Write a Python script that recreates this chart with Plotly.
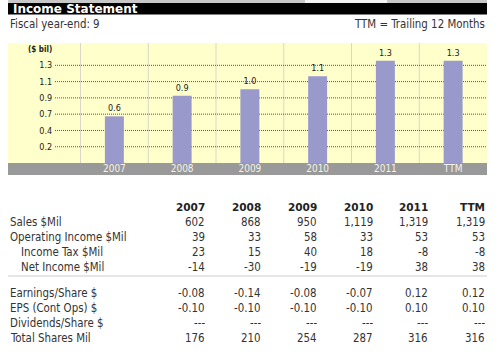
import plotly.graph_objects as go

# ---------------- data ----------------
categories = ["2007", "2008", "2009", "2010", "2011", "TTM"]
sales_bil = [0.602, 0.868, 0.950, 1.119, 1.319, 1.319]
bar_labels = ["0.6", "0.9", "1.0", "1.1", "1.3", "1.3"]
y_tick_vals = [0.21, 0.42, 0.63, 0.84, 1.05, 1.26]
y_tick_text = ["0.2", "0.4", "0.7", "0.9", "1.1", "1.3"]

row_labels = ["Sales $Mil", "Operating Income $Mil", "Income Tax $Mil", "Net Income $Mil",
              "Earnings/Share $", "EPS (Cont Ops) $", "Dividends/Share $", "Total Shares Mil"]
row_indent = [0, 0, 1, 1, 0, 0, 0, 0]
sales_mil = ["602", "868", "950", "1,119", "1,319", "1,319"]
operating_income = ["39", "33", "58", "33", "53", "53"]
income_tax = ["23", "15", "40", "18", "-8", "-8"]
net_income = ["-14", "-30", "-19", "-19", "38", "38"]
eps = ["-0.08", "-0.14", "-0.08", "-0.07", "0.12", "0.12"]
eps_cont = ["-0.10", "-0.10", "-0.10", "-0.10", "0.10", "0.10"]
dividends = ["---", "---", "---", "---", "---", "---"]
total_shares = ["176", "210", "254", "287", "316", "316"]
table_rows = [sales_mil, operating_income, income_tax, net_income,
              eps, eps_cont, dividends, total_shares]

# ---------------- layout helpers ----------------
W, H = 500, 360
def px(x):
    return x / W
def py(y):
    return 1 - y / H

FONT = "Tahoma, 'DejaVu Sans Condensed', 'DejaVu Sans', Verdana, sans-serif"
FONT_WIDE = "Verdana, 'DejaVu Sans', sans-serif"
TXT = "#333333"
LEFT, RIGHT = 8, 487
CHART_TOP, CHART_BOT, BAND_BOT = 43, 163, 175

fig = go.Figure()
fig.add_trace(go.Bar(
    x=categories, y=sales_bil, width=0.28,
    marker=dict(color="#9999CC", line=dict(width=0)),
    text=bar_labels, textposition="outside", cliponaxis=False,
    textfont=dict(family=FONT, size=9, color="#222222"),
    hoverinfo="skip",
))

shapes = []
# top strip and header bar
shapes.append(dict(type="rect", xref="paper", yref="paper", x0=px(LEFT), x1=px(RIGHT),
                   y0=py(3), y1=py(0), fillcolor="#C8C8C8", line_width=0, layer="below"))
shapes.append(dict(type="rect", xref="paper", yref="paper", x0=px(305), x1=px(387),
                   y0=py(3), y1=py(0), fillcolor="#F4F4F4", line_width=0, layer="below"))
shapes.append(dict(type="rect", xref="paper", yref="paper", x0=px(LEFT), x1=px(RIGHT),
                   y0=py(14.5), y1=py(3), fillcolor="#000000", line_width=0, layer="below"))
# chart background
shapes.append(dict(type="rect", xref="paper", yref="paper", x0=px(LEFT), x1=px(RIGHT),
                   y0=py(CHART_BOT), y1=py(CHART_TOP), fillcolor="#FFFFCC", line_width=0, layer="below"))
# gray category band
shapes.append(dict(type="rect", xref="paper", yref="paper", x0=px(LEFT), x1=px(RIGHT),
                   y0=py(BAND_BOT), y1=py(CHART_BOT), fillcolor="#999999", line_width=0, layer="below"))
# column dividers
for i in range(len(categories)):
    shapes.append(dict(type="line", xref="x", yref="paper", x0=i - 0.5, x1=i - 0.5,
                       y0=py(CHART_BOT), y1=py(CHART_TOP),
                       line=dict(color="#D8D8C8", width=1), layer="below"))
# dotted gridlines
for v in y_tick_vals:
    shapes.append(dict(type="line", xref="paper", yref="y", x0=px(55), x1=px(RIGHT),
                       y0=v, y1=v, line=dict(color="#555555", width=1, dash="1px,1px"),
                       layer="below"))
# table separator
shapes.append(dict(type="line", xref="paper", yref="paper", x0=px(LEFT), x1=px(RIGHT),
                   y0=py(276), y1=py(276), line=dict(color="#CCCCCC", width=1)))

ann = []
def text(x, y, s, anchor="left", size=11.4, color=TXT, bold=False, family=FONT):
    ann.append(dict(x=px(x), y=py(y), xref="paper", yref="paper", text=("<b>%s</b>" % s) if bold else s,
                    showarrow=False, xanchor=anchor, yanchor="middle",
                    font=dict(family=family, size=size, color=color)))

text(11, 9, "Income Statement", bold=True, color="#FFFFFF", size=12, family=FONT_WIDE)
text(8, 24, "Fiscal year-end: 9")
text(RIGHT, 24, "TTM = Trailing 12 Months", anchor="right")
text(40, 50, "($ bil)", anchor="center", size=8, color="#222222", bold=True)

col_right = [207, 263, 319, 375, 430, 487]
for c, xr in zip(categories, col_right):
    text(xr, 207, c, anchor="right", bold=True, color="#222222", family=FONT_WIDE, size=10.5)
row_y = [222, 237, 252, 267, 292.5, 307.5, 322.5, 338]
for lab, ind, yy, vals in zip(row_labels, row_indent, row_y, table_rows):
    text(8 + 11 * ind, yy, lab)
    for v, xr in zip(vals, col_right):
        text(xr, yy, v, anchor="right")

fig.update_layout(
    width=W, height=H, margin=dict(l=0, r=0, t=0, b=0),
    paper_bgcolor="#FFFFFF", plot_bgcolor="rgba(0,0,0,0)",
    showlegend=False, shapes=shapes, annotations=ann,
    xaxis=dict(domain=[px(80), px(RIGHT)], showgrid=False, zeroline=False, showline=False,
               ticks="", ticklabelstandoff=-2,
               tickfont=dict(family=FONT, size=10, color="#F2F2F2"), fixedrange=True),
    yaxis=dict(domain=[py(CHART_BOT), py(CHART_TOP)], range=[0, 1.548],
               tickvals=y_tick_vals, ticktext=y_tick_text,
               showgrid=False, zeroline=False, showline=False,
               ticks="outside", ticklen=25, tickcolor="rgba(0,0,0,0)",
               tickfont=dict(family=FONT, size=9, color="#222222"), fixedrange=True),
)

fig.write_html("out.html", config={"displayModeBar": False},
               post_script="document.body.style.margin='0';document.body.style.overflow='hidden';")
